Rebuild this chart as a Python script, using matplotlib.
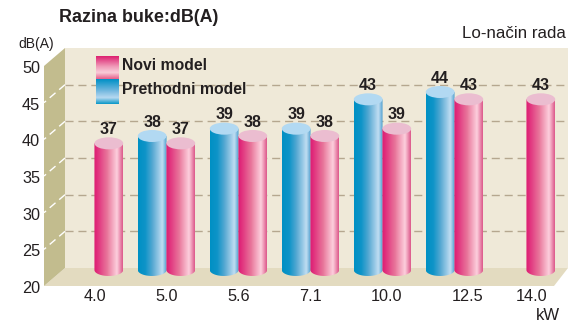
#!/usr/bin/python
# -*- coding: utf-8 -*-

import numpy as np
import matplotlib
matplotlib.use('Agg')
import matplotlib.pyplot as plt
from matplotlib.colors import LinearSegmentedColormap
from matplotlib.patches import Ellipse, Polygon
from matplotlib.path import Path
from matplotlib.transforms import Affine2D

categories = ['4.0', '5.0', '5.6', '7.1', '10.0', '12.5', '14.0']
novi_model = [37, 37, 38, 38, 39, 43, 43]
prethodni_model = [None, 38, 39, 39, 43, 44, None]
y_ticks = [20, 25, 30, 35, 40, 45, 50]
grid_values = [25, 30, 35, 40, 45]
label_shift = [0, 0, 0, 0, 4, 13, 5]    # the kW labels are not centered on their groups

WIDTH, HEIGHT = 568, 323
LEFT, RIGHT, TOP, BOTTOM = 65, 568, 48, 268
FRONT_LEFT, FRONT_RIGHT, DROP = 44, 554, 18
GROUP_STEP, FIRST_GROUP = 72.0, 94.5
BAR_W, BAR_GAP = 0.40, 0.199
BASE, CAP_H = 19.73, 1.64
TEXT_COLOR = '#231F20'

RED_MAP = LinearSegmentedColormap.from_list('red', [
    (0.0, '#DC1F72'), (0.08, '#E0287A'), (0.45, '#E8759A'),
    (0.8, '#FDD0DD'), (1.0, '#DD5A8C')])
BLUE_MAP = LinearSegmentedColormap.from_list('blue', [
    (0.0, '#0090C4'), (0.25, '#0E94C8'), (0.5, '#55A8D2'),
    (0.85, '#C0DDF2'), (1.0, '#4FA0D0')])
RED_SWATCH = LinearSegmentedColormap.from_list('red_v', [
    (0.0, '#DD2070'), (0.45, '#F09AB8'), (0.72, '#F9CDD9'), (1.0, '#E6608C')])
BLUE_SWATCH = LinearSegmentedColormap.from_list('blue_v', [
    (0.0, '#0090C6'), (0.45, '#6FB6DE'), (0.75, '#B8D9F1'), (1.0, '#0A98C8')])

plt.rcParams['font.family'] = ['Liberation Sans', 'DejaVu Sans']


def px(x, y):
    return x / WIDTH, 1 - y / HEIGHT


def ax_x(pixel):
    return (pixel - FIRST_GROUP) / GROUP_STEP


def draw_cylinder(ax, x, value, cmap, cap_color, order):
    left, right = x - BAR_W / 2, x + BAR_W / 2
    gradient = np.linspace(0, 1, 64).reshape(1, -1)
    img = ax.imshow(gradient, cmap=cmap, extent=(left, right, BASE - CAP_H / 2, value),
                    aspect='auto', interpolation='bilinear', zorder=order)
    t = np.linspace(np.pi, 2 * np.pi, 40)
    outline = np.column_stack([x + BAR_W / 2 * np.cos(t), BASE + CAP_H / 2 * np.sin(t)])
    outline = np.vstack([outline, [right, value], [left, value], outline[:1]])
    img.set_clip_path(Path(outline), ax.transData)
    img.set_clip_box(ax.figure.bbox)
    ax.add_patch(Ellipse((x, value), BAR_W, CAP_H, facecolor=cap_color, edgecolor='none',
                         zorder=order + 0.1, clip_on=False))
    ax.text(x, value, str(value), ha='center', va='center', fontsize=11.5, fontweight='bold',
            color=TEXT_COLOR, zorder=20, transform=ax.transData + Affine2D().translate(0, 14))


def draw_room(fig):
    corners = {
        'floor': [(FRONT_LEFT, BOTTOM + DROP), (FRONT_RIGHT, BOTTOM + DROP), (RIGHT, BOTTOM), (LEFT, BOTTOM)],
        'side': [(FRONT_LEFT, TOP + DROP), (LEFT, TOP), (LEFT, BOTTOM), (FRONT_LEFT, BOTTOM + DROP)],
    }
    colors = {'floor': '#E3DBC0', 'side': '#C2BC8E'}
    for name, points in corners.items():
        fig.add_artist(Polygon([px(*p) for p in points], closed=True, facecolor=colors[name],
                               edgecolor='none', transform=fig.transFigure, zorder=-1))


def draw_swatch(fig, top, bottom, cmap):
    x0, y0 = px(96, bottom)
    x1, y1 = px(119, top)
    sw = fig.add_axes([x0, y0, x1 - x0, y1 - y0], zorder=2)
    sw.imshow(np.linspace(0, 1, 64).reshape(-1, 1), cmap=cmap, aspect='auto', interpolation='bilinear')
    sw.axis('off')


def main():
    fig = plt.figure(figsize=(WIDTH / 100, HEIGHT / 100), dpi=100, facecolor='white')
    draw_room(fig)

    x0, y0 = px(LEFT, BOTTOM)
    x1, y1 = px(RIGHT, TOP)
    ax = fig.add_axes([x0, y0, x1 - x0, y1 - y0], facecolor='#EFE9D8', zorder=1)

    db_per_px = (y_ticks[-1] - y_ticks[0]) / (BOTTOM - TOP)
    for value in grid_values:
        ax.axhline(value, color='#B5A78F', lw=1.0, dashes=(5.8, 3.5), zorder=1)
        # white dashes running over the side wall
        ax.plot([ax_x(LEFT), ax_x(FRONT_LEFT)], [value, value - DROP * db_per_px], color='white',
                lw=1.0, dashes=(5.5, 3.5), clip_on=False, zorder=1)

    for i in range(len(categories)):
        if prethodni_model[i] is not None:
            draw_cylinder(ax, i - BAR_GAP, prethodni_model[i], BLUE_MAP, '#B2D9F2', 3 + 2 * i)
        draw_cylinder(ax, i + BAR_GAP, novi_model[i], RED_MAP, '#EBBDD0', 4 + 2 * i)

    ax.set_xlim(ax_x(LEFT), ax_x(RIGHT))
    ax.set_ylim(20, 50)
    for side in ax.spines.values():
        side.set_visible(False)

    ax.set_yticks(y_ticks)
    ax.tick_params(axis='y', length=0, pad=18, labelsize=11.7, labelcolor=TEXT_COLOR)
    for label in ax.get_yticklabels():
        label.set_transform(label.get_transform() + Affine2D().translate(0, -DROP - 1))

    ax.set_xticks(range(len(categories)))
    ax.set_xticklabels(categories)
    ax.tick_params(axis='x', length=0, pad=15, labelsize=11.7, labelcolor=TEXT_COLOR)
    for label, shift in zip(ax.get_xticklabels(), label_shift):
        label.set_transform(label.get_transform() + Affine2D().translate(shift, 0))

    draw_swatch(fig, 56, 79, RED_SWATCH)
    draw_swatch(fig, 79, 104, BLUE_SWATCH)

    fig.text(*px(122, 66), 'Novi model', fontsize=11.3, fontweight='bold', va='center', color=TEXT_COLOR, zorder=3)
    fig.text(*px(122, 90), 'Prethodni model', fontsize=11.3, fontweight='bold', va='center', color=TEXT_COLOR, zorder=3)
    fig.text(*px(59, 17), 'Razina buke:dB(A)', fontsize=12.9, fontweight='bold', va='center', color=TEXT_COLOR)
    fig.text(*px(18, 44), 'dB(A)', fontsize=10, va='center', color=TEXT_COLOR)
    fig.text(*px(566, 33), 'Lo-način rada', fontsize=12.2, va='center', ha='right', color=TEXT_COLOR)
    fig.text(*px(536, 315), 'kW', fontsize=12, va='center', color=TEXT_COLOR)

    fig.savefig('out.png', dpi=100)
    plt.close(fig)


if __name__ == '__main__':
    main()
